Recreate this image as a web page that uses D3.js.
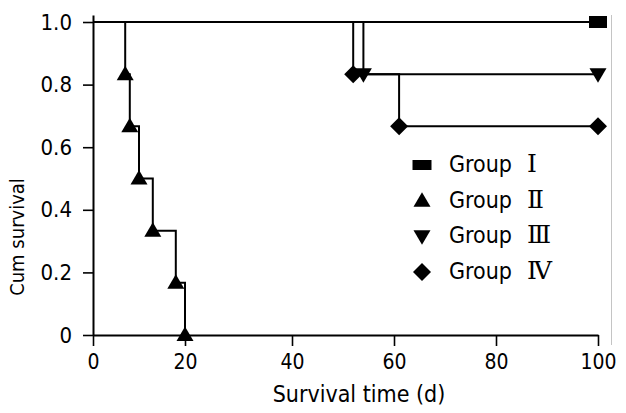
<!DOCTYPE html>
<html>
<head>
<meta charset="utf-8">
<script src="https://cdn.jsdelivr.net/npm/d3@7"></script>
<style>
  html, body { margin: 0; padding: 0; background: #fff; }
  svg { display: block; }
  text { font-family: "DejaVu Sans Condensed", "DejaVu Sans", sans-serif; font-stretch: condensed; fill: #000; }
  .num { font-family: "DejaVu Serif", serif; font-stretch: normal; }
</style>
</head>
<body>
<svg id="chart" width="626" height="413"></svg>
<script>
// ---- data ----
const xTicks = [0, 20, 40, 60, 80, 100];
const yTicks = [0, 0.2, 0.4, 0.6, 0.8, 1.0];
const yTickLabels = ["0", "0.2", "0.4", "0.6", "0.8", "1.0"];
const groupNames = ["Group", "Group", "Group", "Group"];
const groupNumerals = ["Ⅰ", "Ⅱ", "Ⅲ", "Ⅳ"];
const groupShapes = ["square", "triangleUp", "triangleDown", "diamond"];

const timeI   = [0, 100];
const survI   = [1, 1];
const timeII  = [0, 7, 8, 10, 13, 18, 20];
const survII  = [1, 0.833, 0.667, 0.5, 0.333, 0.167, 0];
const timeIII = [0, 54, 100];
const survIII = [1, 0.833, 0.833];
const timeIV  = [0, 52, 61, 100];
const survIV  = [1, 0.833, 0.667, 0.667];

const xLabel = "Survival time (d)";
const yLabel = "Cum survival";

// ---- layout ----
const svg = d3.select("#chart");
const x = d3.scaleLinear().domain(xTicks).range([93, 185, 292, 394, 496, 598]);
const y = d3.scaleLinear().domain([0, 1.0224]).range([335, 15]);

const series = [
  { t: timeI, s: survI },
  { t: timeII, s: survII },
  { t: timeIII, s: survIII },
  { t: timeIV, s: survIV }
].map((g, i) => ({ pts: g.t.map((t, j) => [t, g.s[j]]), shape: groupShapes[i] }));

// faint frame line on the right
svg.append("line")
  .attr("x1", x(100) + 13.5).attr("x2", x(100) + 13.5)
  .attr("y1", y(1.0224)).attr("y2", y(0) + 10)
  .attr("stroke", "#c4c4c4").attr("stroke-width", 1);

// axes
const xAxis = d3.axisBottom(x).tickValues(xTicks).tickSize(11).tickSizeOuter(0).tickFormat(d3.format("d"));
const gx = svg.append("g").attr("transform", `translate(0,${y(0)})`).call(xAxis);
gx.attr("font-family", null);
gx.select(".domain").attr("stroke", "#000").attr("stroke-width", 2);
gx.selectAll(".tick line").attr("stroke", "#000").attr("stroke-width", 1.6);
gx.selectAll(".tick text").attr("y", 34).attr("dy", 0).attr("font-size", 21).attr("fill", "#000");

const yAxis = d3.axisLeft(y).tickValues(yTicks).tickSize(10).tickSizeOuter(0)
  .tickPadding(11).tickFormat((d, i) => yTickLabels[i]);
const gy = svg.append("g").attr("transform", `translate(${x(0)},0)`).call(yAxis);
gy.attr("font-family", null);
gy.select(".domain").attr("stroke", "#000").attr("stroke-width", 2);
gy.selectAll(".tick line").attr("stroke", "#000").attr("stroke-width", 1.6);
gy.selectAll(".tick text").attr("font-size", 22).attr("fill", "#000");

// axis titles
svg.append("text").attr("x", 359).attr("y", 402).attr("text-anchor", "middle")
  .attr("font-size", 23).text(xLabel);
svg.append("text").attr("transform", "translate(24,237) rotate(-90)").attr("text-anchor", "middle")
  .attr("font-size", 20).text(yLabel);

// step curves
const line = d3.line().x(d => x(d[0])).y(d => y(d[1])).curve(d3.curveStepAfter);
svg.append("g").selectAll("path").data(series).join("path")
  .attr("d", d => line(d.pts))
  .attr("fill", "none").attr("stroke", "#000").attr("stroke-width", 2);

// marker shapes
function shapePath(shape, legend) {
  switch (shape) {
    case "square": return legend ? "M-9.5,-5 H9.5 V5 H-9.5 Z" : "M-9,-6 H9 V6 H-9 Z";
    case "triangleUp": return "M0,-8.5 L8.5,6 L-8.5,6 Z";
    case "triangleDown": return "M0,8.5 L8.5,-6 L-8.5,-6 Z";
    case "diamond": return "M0,-9 L9,0 L0,9 L-9,0 Z";
  }
}
const markers = [];
series.forEach(g => g.pts.slice(1).forEach(p => markers.push({ p, shape: g.shape })));
svg.append("g").selectAll("path").data(markers).join("path")
  .attr("transform", d => `translate(${x(d.p[0])},${y(d.p[1])})`)
  .attr("d", d => shapePath(d.shape, false))
  .attr("fill", "#000");

// legend
const legendRows = [172, 207.7, 243.3, 279];
const lg = svg.append("g");
groupShapes.forEach((s, i) => {
  lg.append("path").attr("transform", `translate(422,${legendRows[i] - 7})`)
    .attr("d", shapePath(s, true)).attr("fill", "#000");
  const t = lg.append("text").attr("x", 449).attr("y", legendRows[i]).attr("font-size", 23);
  t.append("tspan").text(groupNames[i] + " ");
  t.append("tspan").attr("class", "num").attr("x", 527).attr("font-size", 25).text(groupNumerals[i]);
});
</script>
</body>
</html>
